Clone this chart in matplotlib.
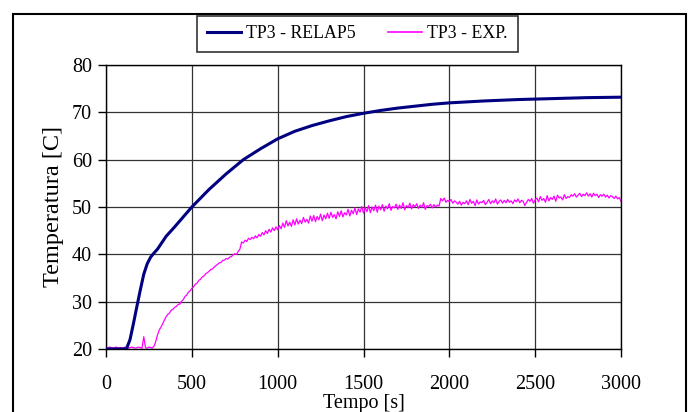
import matplotlib
matplotlib.use("Agg")
import matplotlib.pyplot as plt
from matplotlib.lines import Line2D
import numpy as np

plt.rcParams['font.family'] = ['Liberation Serif', 'DejaVu Serif']

# RELAP5 simulation
t_relap = [0, 100, 120, 140, 160, 180, 200, 220, 240, 260, 280, 300, 350, 400, 450,
           500, 600, 700, 800, 900, 1000, 1100, 1200, 1300, 1400, 1500, 1600, 1700,
           1800, 1900, 2000, 2200, 2400, 2600, 2800, 3000]
T_relap = [20.0, 20.0, 20.1, 22.0, 25.4, 29.0, 32.5, 35.8, 38.0, 39.4, 40.3, 41.1, 43.8,
           45.8, 47.9, 50.0, 53.7, 57.0, 60.0, 62.3, 64.4, 66.0, 67.2, 68.2, 69.1, 69.8,
           70.4, 70.9, 71.3, 71.7, 72.0, 72.4, 72.7, 72.9, 73.1, 73.2]

# Experimental data, every 10 s from 0 to 3000 s
t_exp = list(range(0, 3001, 10))
T_exp = [
    20.3, 20.2, 20.4, 20.3, 20.2, 20.3, 20.4, 20.2, 20.3, 20.3,
    20.2, 20.4, 20.3, 20.2, 20.3, 20.4, 20.3, 20.2, 20.3, 20.4,
    20.3, 20.2, 22.6, 20.3, 20.2, 20.4, 20.3, 20.2, 20.6, 21.6,
    23.0, 24.0, 24.6, 25.3, 26.1, 26.8, 27.3, 27.6, 28.2, 28.4,
    28.8, 29.0, 29.4, 29.5, 30.1, 30.4, 31.1, 31.4, 32.0, 32.3,
    32.8, 33.1, 33.7, 33.9, 34.5, 34.7, 35.2, 35.4, 35.9, 36.1,
    36.4, 36.8, 36.9, 37.3, 37.6, 37.9, 38.2, 38.3, 38.7, 38.8,
    39.1, 39.0, 39.4, 39.5, 39.9, 40.1, 40.0, 40.6, 41.1, 42.6,
    42.4, 43.0, 42.7, 43.4, 43.1, 43.6, 43.3, 43.9, 43.5, 44.2,
    43.8, 44.6, 44.1, 45.0, 44.4, 45.3, 44.7, 45.6, 45.0, 45.8,
    45.2, 46.1, 45.4, 46.6, 45.7, 47.1, 46.0, 46.8, 45.9, 47.3,
    46.2, 47.5, 46.4, 47.2, 46.5, 47.8, 46.8, 47.4, 46.6, 48.1,
    47.0, 48.2, 46.9, 48.0, 47.3, 48.5, 47.1, 48.3, 47.5, 48.7,
    47.6, 48.9, 47.8, 48.4, 47.5, 49.0, 48.0, 49.2, 47.9, 48.8,
    48.3, 49.5, 48.1, 49.3, 48.6, 49.8, 48.4, 49.6, 48.9, 50.1,
    48.7, 49.9, 49.0, 50.3, 48.8, 50.0, 49.2, 50.4, 48.9, 50.2,
    49.4, 50.5, 49.1, 50.2, 49.6, 50.7, 49.3, 50.1, 49.8, 50.6,
    49.5, 50.4, 49.7, 50.9, 49.4, 50.3, 49.9, 50.8, 49.6, 50.5,
    50.0, 50.7, 49.7, 50.4, 49.9, 50.9, 49.5, 50.3, 50.1, 50.6,
    49.8, 50.5, 50.0, 50.4, 50.2, 51.8, 51.3, 51.9, 51.0, 51.4,
    51.1, 51.6, 50.8, 51.3, 51.0, 50.6, 51.2, 50.4, 51.0, 50.7,
    51.3, 50.5, 51.6, 50.8, 51.2, 50.3, 51.5, 50.6, 51.1, 50.9,
    51.4, 50.5, 51.0, 51.6, 50.7, 51.3, 50.9, 51.7, 50.6, 51.2,
    51.5, 50.8, 51.4, 50.9, 51.6, 51.0, 51.3, 50.7, 51.5, 51.1,
    51.7, 50.9, 51.4, 51.2, 50.3, 51.0, 51.6, 51.2, 51.8, 50.8,
    51.5, 51.9, 51.1, 52.2, 51.4, 51.8, 51.0, 52.4, 51.3, 52.0,
    51.6, 52.3, 51.2, 52.5, 51.9, 52.1, 51.5, 52.6, 51.8, 52.2,
    52.0, 52.6, 52.3, 52.8, 52.1, 52.5, 52.9, 52.2, 52.7, 52.4,
    53.0, 52.3, 52.8, 52.1, 52.9, 52.4, 52.7, 52.0, 52.6, 52.3,
    52.7, 52.1, 52.5, 51.9, 52.4, 52.2, 51.8, 52.3, 51.7, 52.0,
    51.2,
]

x_ticks = [0, 500, 1000, 1500, 2000, 2500, 3000]
y_ticks = [20, 30, 40, 50, 60, 70, 80]
labels = ["TP3 - RELAP5", "TP3 - EXP."]
c_relap = "#000080"
c_exp = "#FF00FF"

W, H = 691, 412
fig = plt.figure(figsize=(W / 100, H / 100), dpi=100)
ax = fig.add_axes([106 / W, 1 - 349 / H, (621 - 106) / W, (349 - 65) / H])

ax.plot(t_relap, T_relap, color=c_relap, lw=2.2, zorder=3)
ax.plot(t_exp, T_exp, color=c_exp, lw=0.9, zorder=2)

ax.set_xlim(0, 3000)
ax.set_ylim(20, 80)
ax.set_xticks(x_ticks)
ax.set_yticks(y_ticks)
ax.grid(True, color="#333333", lw=0.9)
ax.set_axisbelow(True)
for s in ax.spines.values():
    s.set_color("black")
    s.set_linewidth(1.0)
ax.tick_params(direction="out", length=6, width=1, labelsize=14.5, pad=4)
ax.tick_params(axis="x", pad=13)
ax.set_xlabel("Tempo [s]", fontsize=14.5, labelpad=0)
ax.set_ylabel("Temperatura [C]", fontsize=17.5, labelpad=6)

# figure border (bottom edge cut off)
border = plt.Rectangle((13 / W, -0.05), (686 - 13) / W, 1.05 - 14 / H,
                       transform=fig.transFigure, fill=False, edgecolor="black",
                       lw=1.5, zorder=10)
fig.add_artist(border)

handles = [Line2D([], [], color=c_relap, lw=2.2), Line2D([], [], color=c_exp, lw=1.2)]
leg = fig.legend(handles, labels, loc="center", ncol=2,
                 bbox_to_anchor=(357.5 / W, 1 - 34 / H), fontsize=12.8,
                 frameon=True, fancybox=False, shadow=False, handlelength=1.9,
                 handletextpad=0.3, columnspacing=1.8, borderpad=0.55,
                 borderaxespad=0)
leg.get_frame().set_edgecolor("black")
leg.get_frame().set_linewidth(1.2)

fig.savefig("out.png", dpi=100)
